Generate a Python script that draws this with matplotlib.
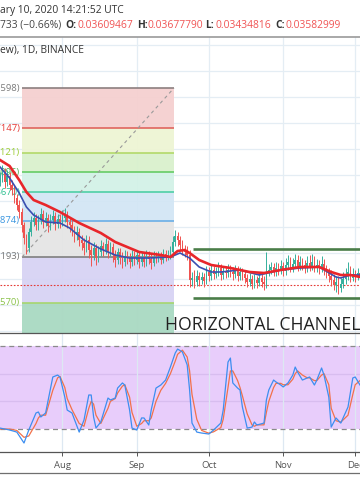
import matplotlib
matplotlib.use("Agg")
import matplotlib.pyplot as plt
import matplotlib.dates as mdates
from matplotlib.lines import Line2D
import numpy as np
import pandas as pd

plt.rcParams['font.family'] = ['Open Sans', 'DejaVu Sans']

W, H = 360, 504
start = pd.Timestamp("2019-07-06")

# ---------------- data ----------------
closes = [.0322, .0328, .0318, .0324, .0315, .0310, .0302, .0295, .0288, .0275,
          .0262, .0252, .0268, .0278, .0282, .0275, .0280, .0286, .0278, .0282,
          .0274, .0280, .0284, .0276, .0281, .0278, .0282, .0285, .0278, .0275,
          .0270, .0265, .0268, .0260, .0257, .0252, .0260, .0250, .0245, .0252,
          .0242, .0248, .0254, .0250, .0256, .0248, .0253, .0245, .0240, .0248,
          .0242, .0238, .0244, .0242, .0238, .0244, .0240, .0245, .0238, .0242,
          .0238, .0244, .0241, .0237, .0243, .0242, .0244, .0240, .0246, .0243,
          .0245, .0248, .0258, .0264, .0260, .0255, .0250, .0248, .0245, .0220,
          .0222, .0218, .0224, .0220, .0223, .0219, .0228, .0224, .0230, .0226,
          .0228, .0232, .0225, .0229, .0227, .0230, .0228, .0226, .0230, .0224,
          .0228, .0226, .0222, .0218, .0221, .0216, .0220, .0217, .0222, .0218,
          .0216, .0228, .0230, .0233, .0228, .0232, .0230, .0234, .0229, .0235,
          .0238, .0232, .0236, .0240, .0234, .0238, .0235, .0232, .0237, .0234,
          .0238, .0233, .0235, .0232, .0236, .0230, .0228, .0224, .0220, .0215,
          .0218, .0212, .0216, .0221, .0224, .0228, .0222, .0226, .0223, .0227, .0224]
highs = [.0328, .0335, .0332, .0330, .0328, .0320, .0314, .0306, .0300, .0292,
         .0278, .0266, .0272, .0284, .0288, .0286, .0285, .0292, .0290, .0288,
         .0286, .0286, .0290, .0288, .0286, .0286, .0290, .0292, .0289, .0283,
         .0280, .0274, .0274, .0272, .0265, .0262, .0265, .0264, .0255, .0258,
         .0256, .0254, .0260, .0258, .0262, .0260, .0258, .0257, .0250, .0252,
         .0252, .0248, .0250, .0249, .0247, .0250, .0249, .0250, .0249, .0248,
         .0247, .0250, .0249, .0246, .0249, .0248, .0249, .0248, .0251, .0250,
         .0250, .0254, .0264, .0270, .0268, .0264, .0260, .0255, .0254, .0250,
         .0228, .0230, .0230, .0228, .0228, .0227, .0234, .0233, .0236, .0234,
         .0233, .0238, .0236, .0234, .0234, .0236, .0235, .0233, .0235, .0234,
         .0233, .0232, .0230, .0226, .0227, .0225, .0226, .0224, .0228, .0226,
         .0224, .0248, .0236, .0238, .0237, .0238, .0237, .0240, .0238, .0242,
         .0245, .0243, .0242, .0246, .0245, .0244, .0242, .0240, .0244, .0245,
         .0246, .0244, .0241, .0240, .0244, .0241, .0235, .0232, .0230, .0226,
         .0224, .0224, .0222, .0228, .0232, .0238, .0234, .0232, .0230, .0232, .0231]
lows = [.0314, .0318, .0312, .0314, .0310, .0305, .0297, .0290, .0282, .0268,
        .0256, .0246, .0248, .0264, .0274, .0270, .0270, .0276, .0272, .0274,
        .0268, .0270, .0276, .0270, .0272, .0272, .0274, .0278, .0272, .0268,
        .0264, .0258, .0260, .0254, .0250, .0245, .0248, .0242, .0234, .0240,
        .0235, .0238, .0244, .0244, .0246, .0242, .0244, .0238, .0233, .0236,
        .0236, .0232, .0234, .0236, .0232, .0234, .0235, .0236, .0232, .0234,
        .0233, .0234, .0236, .0231, .0234, .0237, .0238, .0236, .0237, .0239,
        .0240, .0241, .0245, .0254, .0254, .0250, .0245, .0243, .0240, .0213,
        .0214, .0212, .0214, .0214, .0216, .0213, .0216, .0219, .0220, .0221,
        .0222, .0224, .0220, .0221, .0222, .0223, .0223, .0220, .0222, .0219,
        .0220, .0220, .0217, .0213, .0214, .0211, .0212, .0212, .0214, .0213,
        .0210, .0212, .0224, .0226, .0224, .0224, .0225, .0226, .0224, .0225,
        .0230, .0228, .0228, .0232, .0229, .0230, .0230, .0227, .0228, .0229,
        .0230, .0228, .0228, .0226, .0228, .0225, .0222, .0218, .0214, .0210,
        .0208, .0206, .0208, .0212, .0216, .0220, .0218, .0219, .0218, .0220, .0219]
first_open = .0318

ma_red_days = [0, 4, 8, 11, 14, 19, 25, 33, 42, 48, 58, 67, 71, 74, 77, 79, 83, 88,
               96, 104, 110, 117, 125, 133, 138, 142, 146, 150]
ma_red_vals = [.0340, .0334, .0320, .0308, .0300, .0295, .0288, .0277, .0267, .0258,
               .0248, .0245, .0243, .0249, .0250, .0247, .0240, .0235, .0232, .0228,
               .0227, .0230, .0233, .0233, .0228, .0225, .0225, .0223]
ma_blue_days = [0, 4, 8, 11, 14, 19, 25, 29, 35, 42, 48, 54, 62, 71, 75, 79, 83, 88,
                92, 100, 108, 117, 125, 133, 140, 142, 146, 150]
ma_blue_vals = [.0333, .0322, .0307, .0293, .0285, .0278, .0277, .0272, .0260, .0251,
                .0245, .0242, .0242, .0243, .0247, .0242, .0233, .0228, .0228, .0230,
                .0225, .0230, .0232, .0233, .0223, .0222, .0225, .0225]

fib_prices = [.0412, .0372, .0347, .0328, .0308, .0279, .0243, .0197]
fib_labels = ["1(0.0421598)", "0.786(0.0397147)", "0.618(0.0373121)", "0.5(0.0356096)",
              "0.382(0.0333670)", "0.236(0.0317874)", "0(0.0280193)", "-0.272(0.0236570)"]
fib_line_colors = ["#8c7f7f", "#e0655f", "#b3d96a", "#66cc66", "#4fcfa6", "#6aaee6",
                   "#7f7f7f", "#a6d66e"]
fib_label_colors = ["#7a7a7a", "#e53935", "#9ccc33", "#4caf50", "#2bbf8f", "#3a96e0",
                    "#777777", "#8bc34a"]
fib_fill_colors = ["#f5d0d0", "#eef5d4", "#d9f1cd", "#d3f2e7", "#d3e6f5", "#e5e5e5",
                   "#d7d3f4", "#a9d9c2"]
fib_floor = .0150
fib_start_day, fib_end_day = 9.2, 72.5
fib_diag = [.0243, .0412]

channel_prices = [.0251, .0202]
channel_start_day = 80.4
last_price = .0215

stoch_days = [0, 4, 7, 10, 12, 15, 16, 17, 19, 22, 24, 25, 27, 28, 30, 33, 35, 37, 38, 39,
              40, 42, 45, 46, 48, 49, 51, 52, 54, 55, 57, 59, 60, 62, 63, 65, 67, 69, 71, 73,
              74, 76, 78, 79, 80, 82, 84, 87, 89, 92, 93, 95, 96, 97, 99, 100, 101, 103, 105, 106,
              107, 110, 111, 112, 114, 115, 117, 118, 120, 122, 123, 124, 126, 128, 129, 131, 132,
              134, 135, 137, 138, 140, 142, 145, 147, 148, 150]
stoch_k = [20.7, 19.3, 17.8, 9.9, 19.3, 31.6, 32.3, 28.7, 31.6, 57.6, 59.0, 57.6, 43.1, 33.7,
           31.6, 17.8, 26.5, 44.6, 44.6, 28.7, 20.7, 25.1, 42.4, 41.0, 42.4, 49.6, 53.3, 51.8,
           33.7, 20.7, 19.3, 28.0, 28.0, 22.9, 33.7, 49.6, 51.8, 55.4, 64.8, 74.9, 77.8, 75.7,
           66.3, 48.2, 24.3, 17.8, 17.1, 16.4, 19.3, 24.3, 33.7, 68.4, 71.3, 53.3, 49.6, 48.2,
           35.9, 20.7, 21.4, 25.1, 22.9, 24.3, 41.0, 48.2, 55.4, 54.0, 51.8, 50.4, 53.3, 59.0,
           64.8, 61.2, 55.4, 56.9, 57.6, 51.8, 55.4, 64.1, 59.0, 43.1, 21.4, 28.0, 24.3, 35.9,
           56.9, 57.6, 51.8]
stoch_d = [20, 20, 19, 14, 15, 24, 28, 30, 30, 48, 57, 58, 50, 42, 34, 24, 22, 35, 40, 38,
           30, 24, 35, 40, 42, 46, 51, 52, 43, 32, 22, 24, 26, 26, 28, 40, 48, 53, 60, 69,
           74, 77, 72, 62, 45, 27, 19, 17, 18, 21, 27, 50, 62, 62, 55, 50, 44, 31, 23, 22,
           23, 23, 32, 40, 50, 53, 53, 52, 52, 56, 60, 62, 59, 57, 57, 55, 55, 59, 60, 52,
           35, 26, 25, 30, 45, 52, 55]
stoch_bands = [80, 20]

month_ticks = ["2019-08-01", "2019-09-01", "2019-10-01", "2019-11-01", "2019-12-01"]
month_labels = ["Aug", "Sep", "Oct", "Nov", "Dec"]

header1 = "ary 10, 2020 14:21:52 UTC"
header_change = "733 (\u22120.66%)"
ohlc_keys = ["O:", "H:", "L:", "C:"]
ohlc_vals = ["0.03609467", "0.03677790", "0.03434816", "0.03582999"]
symbol_text = "ew), 1D, BINANCE"
note_text = "HORIZONTAL CHANNEL"

# ---------------- figure ----------------
fig = plt.figure(figsize=(W / 100, H / 100), dpi=100)
fig.patch.set_facecolor("white")

def fx(px):
    return px / W

def fy(py):
    return 1 - py / H

x0 = mdates.date2num(start)
n = len(closes)
days = np.arange(n)
xd = x0 + days

# ---- price panel ----
axp = fig.add_axes([0, fy(333), 1, (333 - 37) / H])
axp.set_xlim(x0, x0 + 150)
axp.set_ylim(.0167, .0463)
axp.set_axis_off()

grid_col = "#e4edf4"
for g in np.arange(.0169, .0460, .0026):
    axp.axhline(g, color=grid_col, lw=0.9, zorder=0)
month_x = [mdates.date2num(pd.Timestamp(m)) for m in month_ticks]
for mx in month_x:
    axp.axvline(mx, color=grid_col, lw=0.9, zorder=0)

fx0, fx1 = x0 + fib_start_day, x0 + fib_end_day
levels = fib_prices + [fib_floor]
for i in range(len(fib_prices)):
    axp.fill_between([fx0, fx1], levels[i + 1], levels[i], color=fib_fill_colors[i],
                     lw=0, zorder=1, alpha=0.95)
for i, p in enumerate(fib_prices):
    axp.plot([fx0, fx1], [p, p], color=fib_line_colors[i], lw=1.2, zorder=2,
             solid_capstyle="butt")
    axp.text(fx(20), p, fib_labels[i], transform=axp.get_yaxis_transform(),
             ha="right", va="center", fontsize=6.8, color=fib_label_colors[i], zorder=3)
axp.plot([fx0, fx1], fib_diag, color="#9a9a9a", lw=0.8, ls=(0, (3, 3)), zorder=2)

# last price dotted line
axp.axhline(last_price, color="#e53935", lw=0.8, ls=(0, (1.5, 1.5)), zorder=2)

# channel
for cp in channel_prices:
    axp.plot([x0 + channel_start_day, x0 + 160], [cp, cp], color="#4a7d48", lw=1.9,
             zorder=4, solid_capstyle="butt")

# candles
opens = [first_open] + closes[:-1]
up_col, dn_col = "#35b09c", "#ef5350"
cols = [up_col if c >= o else dn_col for o, c in zip(opens, closes)]
axp.vlines(xd, lows, highs, colors=cols, lw=0.7, zorder=5)
body_bottom = [min(o, c) for o, c in zip(opens, closes)]
body_h = [max(abs(c - o), .00008) for o, c in zip(opens, closes)]
axp.bar(xd, body_h, bottom=body_bottom, width=0.62, color=cols, lw=0, zorder=5)

# moving averages
axp.plot(x0 + np.array(ma_blue_days), ma_blue_vals, color="#3a4fb0", lw=1.2, zorder=6)
axp.plot(x0 + np.array(ma_red_days), ma_red_vals, color="#e8262a", lw=1.9, zorder=7)

axp.text(fx(165), .0170, note_text, transform=axp.get_yaxis_transform(),
         ha="left", va="baseline", fontsize=12.7, color="#222222", zorder=8)

# ---- stoch panel ----
axr = fig.add_axes([0, fy(452), 1, (452 - 333) / H])
axr.set_xlim(x0, x0 + 150)
axr.set_ylim(3.4, 89.4)
axr.axhspan(stoch_bands[1], stoch_bands[0], color="#e8cdfb", lw=0, zorder=0)
for g in [40, 60]:
    axr.axhline(g, color="#d8bdef", lw=0.9, zorder=1)
for mx in month_x:
    axr.axvline(mx, color="#dde8f2", lw=0.9, zorder=1)
for b in stoch_bands:
    axr.axhline(b, color="#8a8a8a", lw=0.9, ls=(0, (4, 3)), zorder=2)
sx = x0 + np.array(stoch_days)
axr.plot(sx, stoch_d, color="#f2714a", lw=0.9, zorder=3)
axr.plot(sx, stoch_k, color="#3d8ef0", lw=0.9, zorder=4)

for s in ["top", "left", "right"]:
    axr.spines[s].set_visible(False)
axr.spines["bottom"].set_color("#555555")
axr.spines["bottom"].set_linewidth(0.9)
axr.set_yticks([])
axr.set_xticks(month_x)
axr.set_xticklabels(month_labels)
axr.tick_params(axis="x", length=3, width=0.7, color="#555555", labelsize=6.8,
                labelcolor="#555555", pad=3.5)
axr.patch.set_alpha(0)

# ---- separators ----
fig.add_artist(Line2D([0, 1], [fy(36.8), fy(36.8)], color="#9a9a9a", lw=1.2))
fig.add_artist(Line2D([0, 1], [fy(333.2), fy(333.2)], color="#555555", lw=0.9))
fig.add_artist(Line2D([0, 1], [fy(473), fy(473)], color="#6f6f6f", lw=0.9))

# ---- header texts ----
fig.text(fx(0), fy(11), header1, ha="left", va="center", fontsize=7.4, color="#333333")
fig.text(fx(0), fy(25), header_change, ha="left", va="center", fontsize=7.4, color="#444444")
key_x = [65, 137, 205, 275]
val_x = [78, 148, 216, 285]
for k, v, kx, vx in zip(ohlc_keys, ohlc_vals, key_x, val_x):
    fig.text(fx(kx), fy(25), k, ha="left", va="center", fontsize=7.4, color="#333333",
             fontweight="bold")
    fig.text(fx(vx), fy(25), v, ha="left", va="center", fontsize=7.4, color="#f05454")
fig.text(fx(0), fy(50), symbol_text, ha="left", va="center", fontsize=7.4, color="#333333")

fig.savefig("out.png", dpi=100, facecolor="white")
